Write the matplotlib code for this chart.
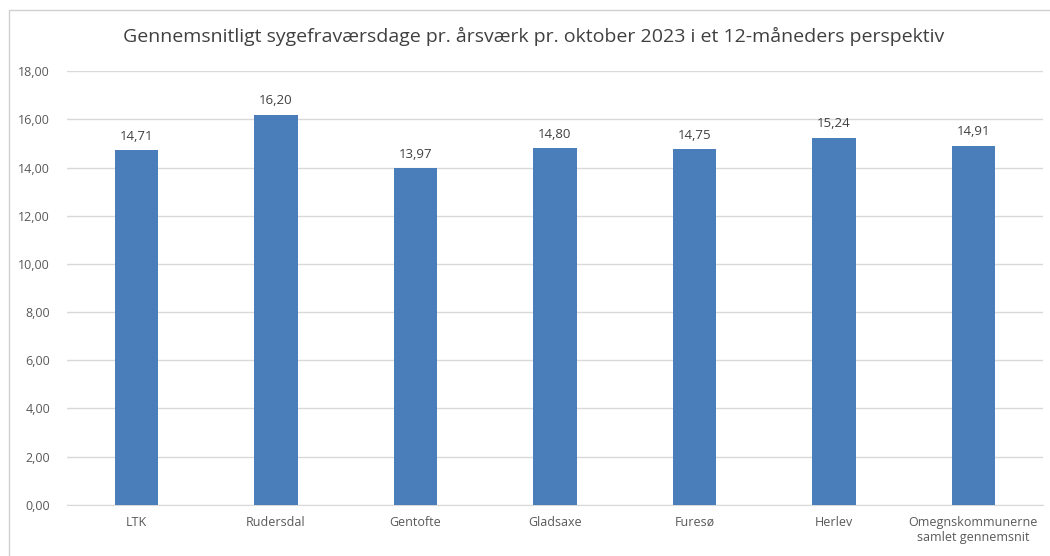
import matplotlib
matplotlib.use("Agg")
import matplotlib.pyplot as plt
from matplotlib.patches import Rectangle

categories = ["LTK", "Rudersdal", "Gentofte", "Gladsaxe", "Furesø", "Herlev",
              "Omegnskommunerne\nsamlet gennemsnit"]
values = [14.71, 16.20, 13.97, 14.80, 14.75, 15.24, 14.91]
yticks = [0, 2, 4, 6, 8, 10, 12, 14, 16, 18]
title = "Gennemsnitligt sygefraværsdage pr. årsværk pr. oktober 2023 i et 12-måneders perspektiv"

def fmt(v):
    return f"{v:.2f}".replace(".", ",")

plt.rcParams['font.family'] = ['Open Sans', 'DejaVu Sans']
fig = plt.figure(figsize=(10.5, 5.56), dpi=100)
fig.patches.append(Rectangle((0.009, -0.01), 1.0, 0.992, transform=fig.transFigure,
                             fill=False, edgecolor="#d0d0d0", linewidth=1.0))
ax = fig.add_axes([0.0635, 0.092, 0.930, 0.780])
x = range(len(categories))
bars = ax.bar(x, values, width=0.31, color="#4a7ebb", zorder=3)
for xi, v in zip(x, values):
    ax.text(xi, v + 0.3, fmt(v), ha="center", va="bottom", fontsize=9.5, color="#404040")
ax.set_ylim(0, 18)
ax.set_xlim(-0.5, len(categories) - 0.5)
ax.set_yticks(yticks)
ax.set_yticklabels([fmt(t) for t in yticks], fontsize=9, color="#595959")
ax.set_xticks(list(x))
ax.set_xticklabels(categories, fontsize=9, color="#595959")
ax.tick_params(axis="both", length=0, pad=8)
ax.tick_params(axis="y", pad=12)
ax.grid(axis="y", color="#d9d9d9", linewidth=1.0, zorder=0)
for s in ["top", "right", "left"]:
    ax.spines[s].set_visible(False)
ax.spines["bottom"].set_color("#d9d9d9")
fig.text(0.508, 0.935, title, ha="center", va="center", fontsize=14, color="#404040")
fig.savefig("out.png", dpi=100)
